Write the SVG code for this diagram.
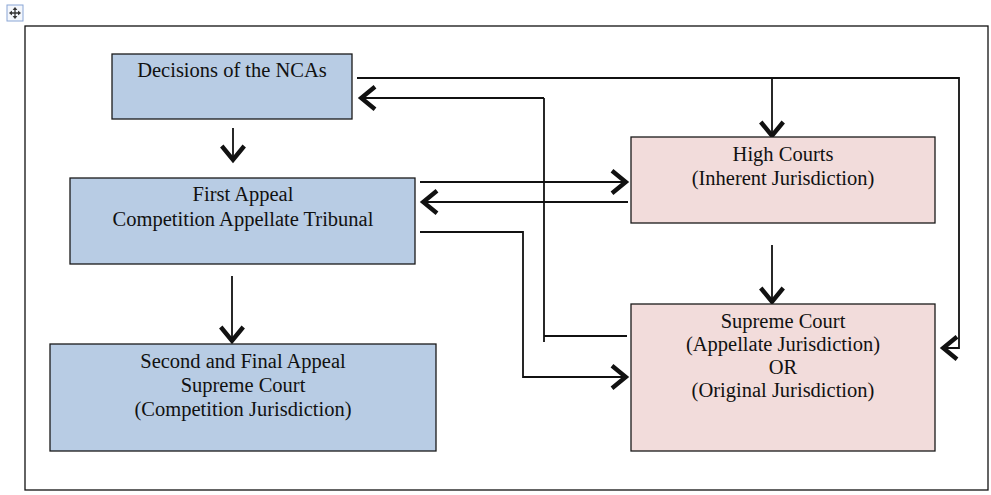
<svg xmlns="http://www.w3.org/2000/svg" width="991" height="495" viewBox="0 0 991 495">
<style>
.blue{fill:#b8cce4;stroke:#1a1a1a;stroke-width:1.3}
.pink{fill:#f2dcdb;stroke:#1a1a1a;stroke-width:1.3}
.t{font-family:"Liberation Serif","Times New Roman",serif;font-size:20.5px;fill:#111;text-anchor:middle}
.c{fill:none;stroke:#111;stroke-width:1.8}
</style>
<defs>
<marker id="ah" markerUnits="userSpaceOnUse" markerWidth="30" markerHeight="30" viewBox="-16 -12 20 24" refX="0" refY="0" orient="auto">
<path d="M-12,-9 L-1,0 L-12,9" fill="none" stroke="#111" stroke-width="3.5"/>
</marker>
</defs>
<rect x="0" y="0" width="991" height="495" fill="#fff"/>
<g id="handle">
<rect x="7" y="5" width="16" height="16" fill="#f4f7fc" stroke="#8aa6d6" stroke-width="1"/>
<path d="M15,8 V18 M10,13 H20" stroke="#333" stroke-width="1.3"/>
<path d="M13,10 L15,7.5 L17,10 M13,16 L15,18.5 L17,16 M12,11 L9.5,13 L12,15 M18,11 L20.5,13 L18,15" fill="#333" stroke="#333" stroke-width="0.8"/>
</g>
<rect id="frame" x="25" y="26" width="963" height="464" fill="none" stroke="#111" stroke-width="1.3"/>
<g id="connectors">
<line class="c" x1="233" y1="128" x2="233" y2="161" marker-end="url(#ah)"/>
<line class="c" x1="232" y1="276" x2="232" y2="342" marker-end="url(#ah)"/>
<line class="c" x1="420" y1="182" x2="627" y2="182" marker-end="url(#ah)"/>
<line class="c" x1="628" y1="202" x2="422" y2="202" marker-end="url(#ah)"/>
<polyline class="c" points="420,232 523,232 523,377 627,377" marker-end="url(#ah)"/>
<polyline class="c" points="627,336 544,336"/>
<line class="c" x1="544" y1="342" x2="544" y2="98"/>
<line class="c" x1="544" y1="98" x2="360" y2="98" marker-end="url(#ah)"/>
<polyline class="c" points="357,78 959,78 959,348 942,348" marker-end="url(#ah)"/>
<line class="c" x1="772" y1="78" x2="772" y2="137" marker-end="url(#ah)"/>
<line class="c" x1="772" y1="245" x2="772" y2="303" marker-end="url(#ah)"/>
</g>
<g id="ncas">
<rect class="blue" x="112" y="54" width="240" height="65"/>
<text class="t" x="232" y="77">Decisions of the NCAs</text>
</g>
<g id="first-appeal">
<rect class="blue" x="70" y="178" width="345" height="86"/>
<text class="t" x="243" y="201">First Appeal</text>
<text class="t" x="243" y="226">Competition Appellate Tribunal</text>
</g>
<g id="second-appeal">
<rect class="blue" x="50" y="344" width="386" height="107"/>
<text class="t" x="243" y="368">Second and Final Appeal</text>
<text class="t" x="243" y="392">Supreme Court</text>
<text class="t" x="243" y="416">(Competition Jurisdiction)</text>
</g>
<g id="high-courts">
<rect class="pink" x="631" y="137" width="304" height="86"/>
<text class="t" x="783" y="161">High Courts</text>
<text class="t" x="783" y="185">(Inherent Jurisdiction)</text>
</g>
<g id="supreme-court">
<rect class="pink" x="631" y="304" width="304" height="147"/>
<text class="t" x="783" y="328">Supreme Court</text>
<text class="t" x="783" y="351">(Appellate Jurisdiction)</text>
<text class="t" x="783" y="374">OR</text>
<text class="t" x="783" y="397">(Original Jurisdiction)</text>
</g>
</svg>
